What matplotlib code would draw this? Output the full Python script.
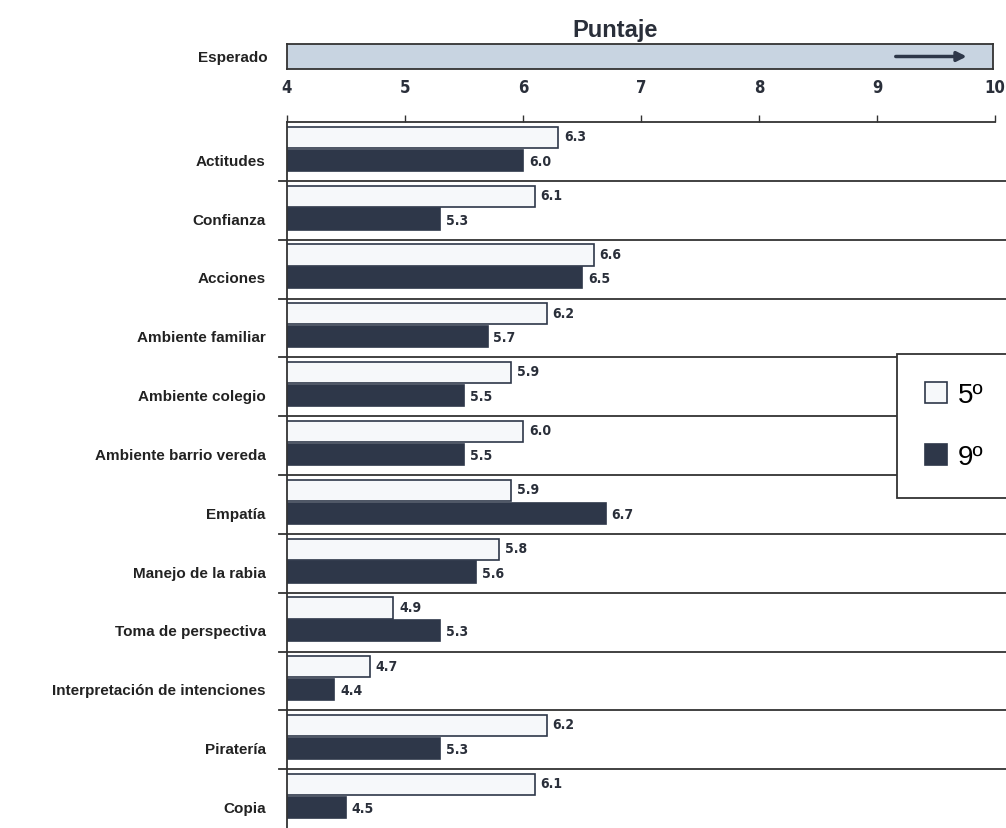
import numpy as np
import matplotlib.pyplot as plt
from matplotlib.lines import Line2D

plt.rcParams['font.family'] = ['Liberation Sans', 'DejaVu Sans']

categorias = ['Actitudes', 'Confianza', 'Acciones', 'Ambiente familiar',
              'Ambiente colegio', 'Ambiente barrio vereda', 'Empatía',
              'Manejo de la rabia', 'Toma de perspectiva',
              'Interpretación de intenciones', 'Piratería', 'Copia']
quinto = [6.3, 6.1, 6.6, 6.2, 5.9, 6.0, 5.9, 5.8, 4.9, 4.7, 6.2, 6.1]
noveno = [6.0, 5.3, 6.5, 5.7, 5.5, 5.5, 6.7, 5.6, 5.3, 4.4, 5.3, 4.5]
ticks = [4, 5, 6, 7, 8, 9, 10]
series = ['5º', '9º']

c_dark = '#2e3749'
c_light = '#f6f8fa'
c_esperado = '#c8d4e1'
narrow = dict(family='DejaVu Sans', fontstretch='condensed', fontweight='bold')

W, H = 1006, 829
fig = plt.figure(figsize=(W / 100, H / 100), dpi=100)

# main axes: x 287..995 px, y 123..829 px
ax = fig.add_axes([287 / W, 0, (995 - 287) / W, (829 - 123) / H])
n = len(categorias)
y = np.arange(n)
h = 0.36
b1 = ax.barh(y + 0.26, quinto, height=h, color=c_light, edgecolor=c_dark, linewidth=1.2)
b2 = ax.barh(y + 0.65, noveno, height=h, color=c_dark, edgecolor=c_dark, linewidth=1.2)
ax.set_xlim(4, 10)
ax.set_ylim(n, 0)

for i in range(n):
    ax.text(quinto[i] + 0.05, y[i] + 0.24, f'{quinto[i]:.1f}', va='center', ha='left',
            fontsize=10, color='#2a2f3a', **narrow)
    ax.text(noveno[i] + 0.05, y[i] + 0.66, f'{noveno[i]:.1f}', va='center', ha='left',
            fontsize=10, color='#2a2f3a', **narrow)
    ax.text(-0.03, 1 - (y[i] + 0.66) / n, categorias[i], transform=ax.transAxes,
            ha='right', va='center', fontsize=11, fontweight='bold', color='#222222')

# group separators
for k in range(1, n):
    ax.add_line(Line2D([-0.012, 1.015], [1 - k / n, 1 - k / n], transform=ax.transAxes,
                       color='#333333', linewidth=1.3, clip_on=False))

ax.spines['right'].set_visible(False)
ax.spines['bottom'].set_visible(False)
ax.spines['left'].set_color('#333333')
ax.spines['top'].set_color('#333333')
ax.spines['left'].set_linewidth(1.3)
ax.spines['top'].set_linewidth(1.3)
ax.set_yticks([])
ax.xaxis.tick_top()
ax.set_xticks(ticks)
ax.set_xticklabels([str(t) for t in ticks], fontsize=12, **narrow)
ax.tick_params(axis='x', direction='out', length=5, width=1, pad=14, colors='#333333')
for lab in ax.get_xticklabels():
    lab.set_color('#2a2f3a')

# expected bar
ax2 = fig.add_axes([287 / W, 1 - 70 / H, (993 - 287) / W, 25 / H])
ax2.set_xlim(4, 10)
ax2.set_ylim(0, 1)
ax2.barh([0.5], [10], left=4, height=1, color=c_esperado, edgecolor='none')
ax2.annotate('', xy=(9.8, 0.5), xytext=(9.15, 0.5),
             arrowprops=dict(arrowstyle='-|>', color=c_dark, lw=2.5, mutation_scale=14))
ax2.set_xticks([])
ax2.set_yticks([])
for s in ax2.spines.values():
    s.set_color('#333333')
    s.set_linewidth(1.3)
fig.text(268 / W, 1 - 58 / H, 'Esperado', ha='right', va='center', fontsize=11,
         fontweight='bold', color='#222222')
fig.text(615 / W, 1 - 30 / H, 'Puntaje', ha='center', va='center', fontsize=17,
         fontweight='bold', color='#2a2f3a')

leg = fig.legend([b1, b2], series, loc='upper left', bbox_to_anchor=(897 / W, 1 - 355 / H),
                 fontsize=20, frameon=True, fancybox=False, edgecolor='#333333',
                 framealpha=1, handlelength=0.8, handleheight=0.8, labelspacing=1.3,
                 borderpad=1.0, handletextpad=0.4, borderaxespad=0)
leg.get_frame().set_linewidth(1.3)

fig.savefig('out.png', dpi=100)
